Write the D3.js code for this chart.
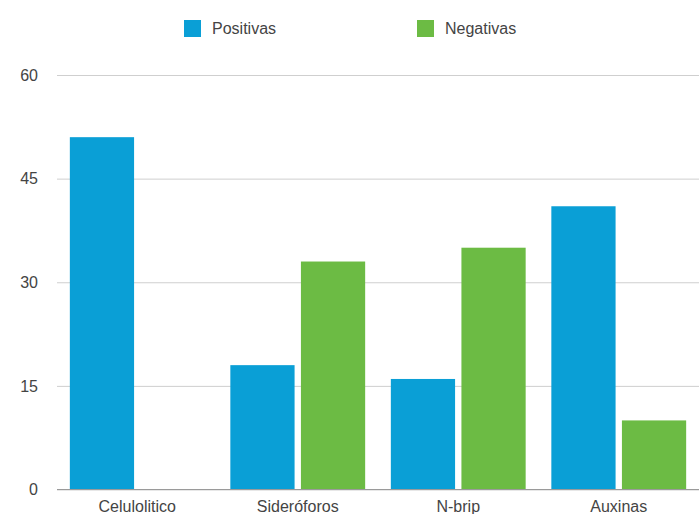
<!DOCTYPE html>
<html lang="es">
<head>
	<meta charset="utf-8">
	<title>Chart</title>
	<script src="https://d3js.org/d3.v7.min.js"></script>
	<style type="text/css">
		body { margin: 0; background: #fff; }
		text { font-family: "Liberation Sans", Arial, sans-serif; fill: #444; }
	</style>
</head>
<body>
	<div id="chart"></div>

<script type="text/javascript">
	var categories = ["Celulolitico", "Sideróforos", "N-brip", "Auxinas"];
	var seriesNames = ["Positivas", "Negativas"];
	var positivas = [51, 18, 16, 41];
	var negativas = [0, 33, 35, 10];
	var yTicks = [0, 15, 30, 45, 60];
	var colors = ["#0a9fd6", "#6cbb44"];

	var w = 699;
	var h = 514;

	var svg = d3.select("#chart")
		.append("svg")
		.attr("width", w)
		.attr("height", h);

	var x0 = d3.scaleBand()
		.domain(categories)
		.range([57, 699])
		.paddingInner(0.16)
		.paddingOuter(0.08);

	var x1 = d3.scaleBand()
		.domain(seriesNames)
		.range([0, x0.bandwidth()])
		.paddingInner(0.09);

	var y = d3.scaleLinear()
		.domain([0, 60])
		.range([489.5, 75]);

	// gridlines + y labels
	var yAxis = d3.axisLeft(y)
		.tickValues(yTicks)
		.tickSize(-(699 - 57))
		.tickPadding(19)
		.tickFormat(d3.format("d"));

	var gy = svg.append("g")
		.attr("transform", "translate(57,0)")
		.call(yAxis);
	gy.select(".domain").remove();
	gy.selectAll(".tick line")
		.attr("stroke", "#cfcfcf")
		.attr("stroke-width", 1);
	gy.selectAll(".tick text")
		.attr("font-size", "16px")
		.attr("fill", "#444");

	var table = categories.map(function(c, i) {
		return { cat: c, values: [positivas[i], negativas[i]] };
	});

	var groups = svg.selectAll("g.group")
		.data(table)
		.enter()
		.append("g")
		.attr("class", "group")
		.attr("transform", function(d) {
			return "translate(" + x0(d.cat) + ",0)";
		});

	groups.selectAll("rect")
		.data(function(d) {
			return d.values.map(function(v, j) {
				return { key: seriesNames[j], value: v, idx: j };
			});
		})
		.enter()
		.append("rect")
		.attr("x", function(d) { return x1(d.key); })
		.attr("y", function(d) { return y(d.value); })
		.attr("width", x1.bandwidth())
		.attr("height", function(d) { return y(0) - y(d.value); })
		.attr("fill", function(d) { return colors[d.idx]; });

	// baseline
	svg.append("line")
		.attr("x1", 57)
		.attr("x2", 699)
		.attr("y1", y(0))
		.attr("y2", y(0))
		.attr("stroke", "#9a9a9a")
		.attr("stroke-width", 1.2);

	// x labels
	var xAxis = d3.axisBottom(x0).tickSize(0).tickPadding(11);
	var gx = svg.append("g")
		.attr("transform", "translate(0," + y(0) + ")")
		.call(xAxis);
	gx.select(".domain").remove();
	gx.selectAll(".tick text")
		.attr("font-size", "16px")
		.attr("fill", "#444");

	// legend
	var legendX = [184, 417];
	var legend = svg.selectAll("g.legend")
		.data(seriesNames)
		.enter()
		.append("g")
		.attr("class", "legend")
		.attr("transform", function(d, i) {
			return "translate(" + legendX[i] + ",20)";
		});

	legend.append("rect")
		.attr("width", 17)
		.attr("height", 17)
		.attr("fill", function(d, i) { return colors[i]; });

	legend.append("text")
		.attr("x", 28)
		.attr("y", 14)
		.attr("font-size", "16px")
		.attr("fill", "#444")
		.text(function(d) { return d; });
</script>
</body>
</html>
